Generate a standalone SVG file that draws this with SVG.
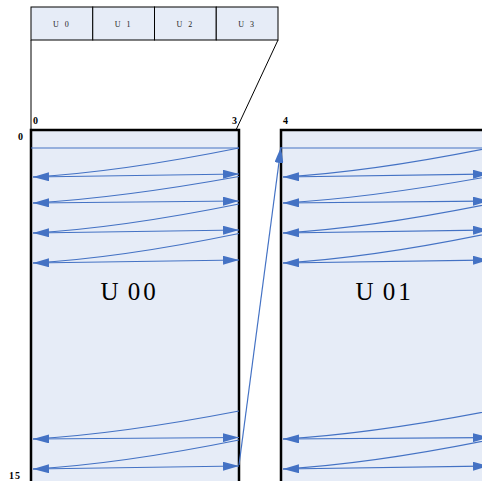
<svg xmlns="http://www.w3.org/2000/svg" width="482" height="481" viewBox="0 0 482 481">
<style>
.cell{fill:#E6ECF7;stroke:#000;stroke-width:1}
.box{fill:#E6ECF7;stroke:#000;stroke-width:2.5}
.thin{fill:none;stroke:#000;stroke-width:1}
.b{fill:none;stroke:#4472C4;stroke-width:1.2}
.ar{marker-start:url(#hs);marker-end:url(#he)}
.small{font-family:"Liberation Serif",serif;font-size:8px;fill:#222;letter-spacing:2px}
.num{font-family:"Liberation Serif",serif;font-size:10px;font-weight:bold;fill:#000}
.big{font-family:"Liberation Serif",serif;font-size:25px;fill:#000;letter-spacing:3px;word-spacing:-3px}
</style>
<defs>
<marker id="he" viewBox="0 0 16 9" refX="16" refY="4.5" markerWidth="16" markerHeight="9" markerUnits="userSpaceOnUse" orient="auto"><path d="M0,0 L16,4.5 L0,9 Z" fill="#4472C4"/></marker>
<marker id="hs" viewBox="0 0 16 9" refX="0" refY="4.5" markerWidth="16" markerHeight="9" markerUnits="userSpaceOnUse" orient="auto"><path d="M16,0 L0,4.5 L16,9 Z" fill="#4472C4"/></marker>
</defs>
<g id="topbar">
<rect class="cell" x="31" y="7" width="61.75" height="33"/>
<rect class="cell" x="92.75" y="7" width="61.75" height="33"/>
<rect class="cell" x="154.5" y="7" width="61.75" height="33"/>
<rect class="cell" x="216.25" y="7" width="61.75" height="33"/>
<text class="small" x="53" y="27">U 0</text>
<text class="small" x="114.7" y="27">U 1</text>
<text class="small" x="176.5" y="27">U 2</text>
<text class="small" x="238.2" y="27">U 3</text>
</g>
<g id="expand">
<line class="thin" x1="31" y1="40" x2="31" y2="130"/>
<line class="thin" x1="278" y1="40" x2="236" y2="130"/>
</g>
<g id="U00">
<path class="box" d="M31,490 V130 H239 V490"/>
<text class="big" x="100.5" y="300">U 00</text>
</g>
<g id="U01">
<path class="box" d="M281,490 V130 H489 V490"/>
<text class="big" x="355.5" y="300">U 01</text>
</g>
<g id="labels">
<text class="num" x="33" y="124">0</text>
<text class="num" x="232" y="124">3</text>
<text class="num" x="283" y="124">4</text>
<text class="num" x="18" y="140">0</text>
<text class="num" x="9" y="479" letter-spacing="1">15</text>
</g>
<g id="connectors">
<line class="b" x1="31" y1="148" x2="239" y2="148"/>
<path class="b" d="M239,148 Q120,172 33,177"/>
<line class="b ar" x1="33" y1="177" x2="239" y2="174"/>
<path class="b" d="M239,176.5 Q120,198 33,203"/>
<line class="b ar" x1="33" y1="203" x2="239" y2="201"/>
<path class="b" d="M239,204 Q120,228 33,233"/>
<line class="b ar" x1="33" y1="233" x2="239" y2="230"/>
<path class="b" d="M239,233.5 Q120,258 33,263"/>
<line class="b ar" x1="33" y1="263" x2="239" y2="260"/>
<path class="b" d="M239,411 Q120,434 33,439"/>
<line class="b ar" x1="33" y1="439" x2="239" y2="437.5"/>
<path class="b" d="M239,440 Q120,464 33,469"/>
<line class="b ar" x1="33" y1="469" x2="239" y2="466"/>
<line class="b" x1="239" y1="465" x2="281" y2="147" marker-end="url(#he)"/>
<line class="b" x1="281" y1="148" x2="489" y2="148"/>
<path class="b" d="M489,148 Q370,172 283,177"/>
<line class="b ar" x1="283" y1="177" x2="489" y2="174"/>
<path class="b" d="M489,176.5 Q370,198 283,203"/>
<line class="b ar" x1="283" y1="203" x2="489" y2="201"/>
<path class="b" d="M489,204 Q370,228 283,233"/>
<line class="b ar" x1="283" y1="233" x2="489" y2="230"/>
<path class="b" d="M489,233.5 Q370,258 283,263"/>
<line class="b ar" x1="283" y1="263" x2="489" y2="260"/>
<path class="b" d="M489,411 Q370,434 283,439"/>
<line class="b ar" x1="283" y1="439" x2="489" y2="437.5"/>
<path class="b" d="M489,440 Q370,464 283,469"/>
<line class="b ar" x1="283" y1="469" x2="489" y2="466"/>
</g>
</svg>
